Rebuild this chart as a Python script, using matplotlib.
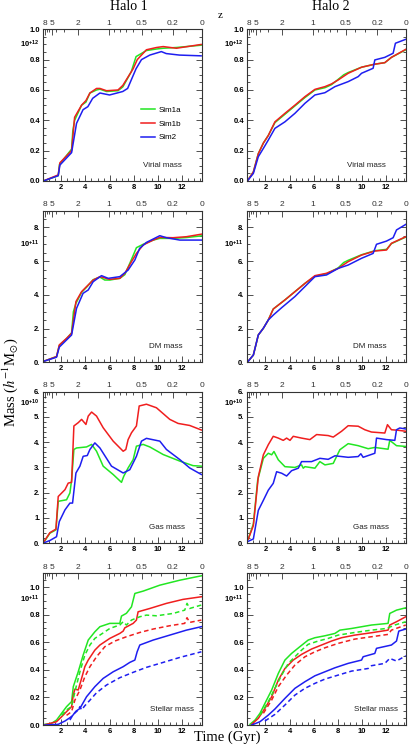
import numpy as np
import matplotlib
matplotlib.use('Agg')
import matplotlib.pyplot as plt
from matplotlib.ticker import MultipleLocator, FixedLocator, FormatStrFormatter

plt.rcParams['font.family'] = ['Liberation Sans', 'DejaVu Sans']
plt.rcParams['mathtext.fontset'] = 'custom'
plt.rcParams['mathtext.rm'] = 'Liberation Sans'
plt.rcParams['mathtext.bf'] = 'Liberation Sans:bold'

# ---------------- labels / categories ----------------
sim_names = ['Sim1a', 'Sim1b', 'Sim2']
sim_colors = ['#22e622', '#f01e1e', '#1e1ef0']
halo_titles = ['Halo 1', 'Halo 2']
panel_labels = ['Virial mass', 'DM mass', 'Gas mass', 'Stellar mass']
exponents = ['+12', '+11', '+10', '+11']
z_major = [8, 5, 2, 1, 0.5, 0.2, 0]
z_major_labels = ['8', '5', '2', '1', '0.5', '0.2', '0']
z_minor = [7, 6, 4, 3, 0.9, 0.8, 0.7, 0.6, 0.4, 0.3, 0.1]
time_ticks = [2, 4, 6, 8, 10, 12]
time_tick_labels = ['2', '4', '6', '8', '10', '12']
row_ylims = [1.0, 9.0, 6.0, 1.1]
row_major = [0.2, 2, 1, 0.2]
row_minor = [0.05, 0.5, 0.2, 0.05]
row_fmt = ['%.1f', '%d.', '%d.', '%.1f']

# ---------------- data: (time [Gyr], mass) ----------------
# Virial mass (units 1e12)
vir_h1_1a = [(0.5,0.0),(1.74,0.035),(1.85,0.11),(2.85,0.21),(2.95,0.33),(3.1,0.40),(3.68,0.50),(4.04,0.52),(4.37,0.58),(4.92,0.60),(5.2,0.605),(5.75,0.59),(6.7,0.595),(7.1,0.62),(7.8,0.72),(8.2,0.82),(9.06,0.86),(9.9,0.87),(10.45,0.875),(11.55,0.88),(13.6,0.895)]
vir_h1_1b = [(0.5,0.0),(1.74,0.04),(1.88,0.12),(2.85,0.2),(3.1,0.42),(3.68,0.5),(4.04,0.53),(4.37,0.58),(4.92,0.61),(5.2,0.61),(5.75,0.595),(6.7,0.60),(7.1,0.63),(7.96,0.74),(8.3,0.80),(9.06,0.865),(9.9,0.88),(10.45,0.886),(11.55,0.875),(13.6,0.90)]
vir_h1_2 = [(0.5,0.0),(1.74,0.035),(1.88,0.105),(2.85,0.187),(3.26,0.38),(3.8,0.47),(4.2,0.49),(4.6,0.545),(5.2,0.58),(6.0,0.567),(7.1,0.59),(7.5,0.61),(8.2,0.74),(8.65,0.80),(9.34,0.83),(10.3,0.853),(10.7,0.84),(11.8,0.83),(13.6,0.825)]
vir_h2_1a = [(0.5,0.0),(1.0,0.06),(1.41,0.18),(1.83,0.25),(2.24,0.30),(2.79,0.385),(3.62,0.44),(4.45,0.495),(5.28,0.55),(6.11,0.60),(6.94,0.615),(7.49,0.635),(8.04,0.67),(8.5,0.70),(8.87,0.715),(9.98,0.75),(11.08,0.77),(11.91,0.78),(12.46,0.815),(13.65,0.865)]
vir_h2_1b = [(0.5,0.0),(1.0,0.06),(1.41,0.18),(1.83,0.25),(2.24,0.30),(2.79,0.39),(3.62,0.446),(4.45,0.50),(5.28,0.556),(6.11,0.604),(6.94,0.622),(7.49,0.64),(8.04,0.666),(8.87,0.71),(9.98,0.75),(11.08,0.77),(11.91,0.78),(12.46,0.815),(13.65,0.868)]
vir_h2_2 = [(0.5,0.0),(1.0,0.05),(1.41,0.16),(1.83,0.215),(2.24,0.27),(2.79,0.347),(3.62,0.39),(4.45,0.446),(5.28,0.512),(6.11,0.567),(6.94,0.582),(7.77,0.622),(8.87,0.655),(9.7,0.688),(9.98,0.71),(10.94,0.743),(11.08,0.798),(11.91,0.815),(12.6,0.842),(12.79,0.908),(13.65,0.934)]

# DM mass (units 1e11)
dm_h1_1a = [(0.5,0.05),(1.6,0.34),(1.83,1.0),(2.43,1.4),(2.85,1.75),(3.0,3.0),(3.21,3.5),(3.68,4.15),(4.09,4.45),(4.64,4.9),(5.2,5.05),(5.6,4.88),(6.02,4.88),(6.85,4.98),(7.27,5.2),(7.82,6.1),(8.23,6.8),(8.79,7.0),(9.62,7.25),(10.17,7.35),(11.27,7.35),(12.38,7.4),(13.62,7.5)]
dm_h1_1b = [(0.5,0.05),(1.6,0.34),(1.83,1.03),(2.43,1.42),(2.85,1.72),(3.21,3.6),(3.68,4.19),(4.09,4.49),(4.64,4.88),(5.2,5.08),(6.02,4.92),(6.85,4.98),(7.27,5.28),(7.82,5.97),(8.23,6.46),(8.79,6.96),(9.62,7.25),(10.17,7.41),(11.27,7.39),(12.38,7.45),(13.62,7.6)]
dm_h1_2 = [(0.5,0.05),(1.6,0.3),(1.83,0.9),(2.85,1.62),(3.26,3.2),(3.8,4.09),(4.23,4.29),(4.64,4.78),(5.33,5.14),(5.89,4.98),(6.85,5.08),(7.54,5.47),(8.1,6.07),(8.5,6.76),(9.06,7.11),(10.17,7.51),(10.72,7.39),(11.83,7.25),(13.62,7.25)]
dm_h2_1a = [(0.5,0.0),(1.0,0.43),(1.41,1.62),(1.83,2.02),(2.24,2.51),(2.65,3.16),(3.62,3.7),(4.45,4.19),(5.28,4.68),(6.11,5.1),(7.07,5.25),(8.04,5.6),(8.5,5.92),(8.87,6.05),(9.98,6.38),(11.08,6.62),(12.05,6.7),(12.46,7.04),(13.65,7.43)]
dm_h2_1b = [(0.5,0.0),(1.0,0.43),(1.41,1.62),(1.83,2.02),(2.24,2.51),(2.65,3.16),(3.62,3.7),(4.45,4.19),(5.28,4.68),(6.11,5.14),(7.07,5.28),(8.04,5.57),(8.87,5.97),(9.98,6.36),(11.08,6.6),(12.05,6.66),(12.46,7.06),(13.65,7.45)]
dm_h2_2 = [(0.5,0.0),(1.0,0.43),(1.41,1.62),(1.83,2.02),(2.24,2.51),(2.65,2.8),(3.35,3.24),(4.45,3.9),(5.28,4.49),(6.11,5.08),(7.07,5.18),(8.04,5.57),(8.87,5.77),(9.98,6.17),(10.94,6.46),(11.22,7.0),(12.05,7.19),(12.6,7.39),(12.88,7.85),(13.65,8.18)]

# Gas mass (units 1e10)
gas_h1_1a = [(0.56,0.05),(1.05,0.4),(1.55,0.53),(1.74,1.66),(2.43,1.72),(2.71,1.99),(2.85,2.5),(3.04,3.71),(3.26,3.77),(4.09,3.81),(4.51,3.91),(4.92,3.64),(5.47,3.05),(6.3,2.72),(6.99,2.41),(7.18,2.65),(7.54,2.98),(7.96,3.31),(8.23,3.84),(8.79,3.91),(9.34,3.81),(10.45,3.51),(11.83,3.25),(12.93,3.07),(13.62,3.05)]
gas_h1_1b = [(0.56,0.07),(1.05,0.42),(1.55,0.56),(1.74,1.85),(2.3,2.12),(2.57,2.38),(2.85,2.41),(3.04,4.64),(3.4,4.77),(3.68,4.9),(4.04,4.7),(4.23,5.03),(4.51,5.19),(4.92,5.03),(5.47,4.57),(6.3,4.04),(7.13,3.64),(7.35,3.71),(7.54,4.1),(7.82,4.37),(8.23,4.64),(8.46,5.43),(9.06,5.5),(9.89,5.36),(11.0,4.9),(11.69,4.74),(12.65,4.66),(13.62,4.48)]
gas_h1_2 = [(0.56,0.02),(1.05,0.11),(1.6,0.26),(1.83,0.86),(2.3,1.32),(2.71,1.59),(2.93,1.59),(3.21,2.78),(3.54,3.05),(3.81,3.44),(4.15,3.47),(4.37,3.71),(4.78,3.97),(5.2,3.77),(6.16,3.05),(7.13,2.78),(7.68,2.91),(8.23,3.44),(8.65,4.04),(9.06,4.15),(10.17,4.04),(10.72,3.71),(11.83,3.31),(12.65,2.98),(13.62,2.72)]
gas_h2_1a = [(0.58,0.17),(1.0,0.77),(1.36,2.5),(1.83,3.36),(2.24,3.56),(2.52,3.5),(2.71,3.63),(3.07,3.3),(3.62,3.03),(4.45,3.0),(5.0,3.1),(5.14,2.97),(5.28,3.03),(6.11,2.97),(6.52,3.23),(6.94,3.1),(7.63,3.16),(8.18,3.7),(8.87,3.94),(9.7,3.86),(10.53,3.74),(11.08,3.79),(12.18,3.72),(12.32,4.07),(12.88,3.86),(13.65,3.83)]
gas_h2_1b = [(0.58,0.17),(1.0,0.7),(1.41,2.63),(1.83,3.5),(2.24,3.9),(2.65,4.23),(3.07,4.16),(3.48,4.07),(3.76,4.16),(4.04,4.07),(4.31,4.23),(5.0,4.16),(5.69,4.1),(6.25,4.3),(7.21,4.26),(7.63,4.2),(8.32,4.43),(8.87,4.65),(9.7,4.63),(10.25,4.49),(10.8,4.4),(11.91,4.36),(12.13,4.69),(12.46,4.49),(13.01,4.47),(13.65,4.43)]
gas_h2_2 = [(0.58,0.08),(1.0,0.17),(1.41,1.3),(1.83,1.7),(2.24,2.1),(2.65,2.37),(2.93,2.83),(3.35,2.77),(3.76,2.66),(4.17,2.87),(4.73,2.97),(5.0,3.23),(5.83,3.23),(6.52,3.36),(7.21,3.32),(7.77,3.46),(8.87,3.4),(9.7,3.43),(9.92,3.54),(10.11,3.4),(11.08,3.56),(11.22,4.16),(12.05,4.1),(12.74,4.07),(12.88,4.49),(13.15,4.56),(13.65,4.52)]

# Stellar mass (units 1e11), solid and dashed
star_h1_1a = [(0.64,0.005),(1.19,0.012),(1.6,0.036),(2.02,0.085),(2.43,0.133),(2.85,0.17),(2.99,0.278),(3.4,0.386),(3.81,0.507),(4.23,0.616),(4.78,0.676),(5.2,0.713),(6.02,0.737),(6.85,0.737),(6.99,0.79),(7.4,0.81),(7.82,0.857),(8.1,0.954),(8.79,0.971),(10.17,1.014),(11.83,1.05),(13.62,1.082)]
star_h1_1b = [(0.64,0.002),(1.6,0.024),(2.02,0.06),(2.43,0.097),(2.85,0.133),(2.99,0.217),(3.12,0.26),(3.4,0.254),(3.68,0.338),(3.95,0.423),(4.23,0.471),(4.78,0.543),(5.2,0.58),(6.02,0.628),(6.85,0.664),(7.13,0.681),(7.27,0.705),(7.96,0.737),(8.23,0.761),(8.37,0.821),(9.34,0.845),(10.72,0.882),(12.1,0.911),(13.62,0.93)]
star_h1_2 = [(0.64,0.0),(1.74,0.005),(2.3,0.029),(2.71,0.053),(2.93,0.068),(3.21,0.1),(3.54,0.12),(4.09,0.205),(4.78,0.278),(5.47,0.338),(6.3,0.386),(7.13,0.423),(7.68,0.454),(8.1,0.471),(8.29,0.531),(8.51,0.58),(9.62,0.616),(11.0,0.652),(12.38,0.688),(13.62,0.713)]
star_h1_1a_d = [(2.02,0.07),(2.43,0.11),(2.85,0.133),(3.12,0.24),(3.54,0.386),(3.95,0.507),(4.37,0.58),(4.78,0.628),(5.2,0.652),(6.02,0.7),(6.44,0.713),(6.85,0.725),(7.13,0.749),(7.4,0.725),(7.82,0.761),(8.51,0.785),(9.06,0.797),(9.89,0.792),(11.27,0.809),(12.24,0.833),(12.43,0.882),(12.65,0.845),(13.62,0.87)]
star_h1_1b_d = [(2.43,0.07),(2.85,0.097),(3.12,0.18),(3.54,0.254),(3.95,0.35),(4.37,0.423),(4.92,0.495),(5.61,0.568),(6.44,0.609),(7.4,0.64),(8.51,0.671),(9.62,0.696),(11.0,0.72),(12.24,0.737),(12.43,0.778),(12.65,0.744),(13.62,0.761)]
star_h1_2_d = [(2.71,0.036),(2.99,0.077),(3.4,0.109),(3.54,0.133),(3.68,0.11),(3.95,0.14),(4.37,0.18),(4.92,0.234),(5.75,0.29),(6.85,0.343),(7.96,0.382),(9.06,0.418),(10.45,0.454),(11.83,0.49),(13.62,0.531)]
star_h2_1a = [(0.72,0.005),(1.14,0.036),(1.55,0.085),(1.96,0.157),(2.52,0.254),(3.07,0.374),(3.62,0.471),(4.17,0.519),(4.86,0.568),(5.55,0.616),(6.11,0.633),(6.94,0.647),(7.77,0.664),(8.18,0.688),(9.15,0.7),(10.8,0.725),(12.18,0.737),(12.32,0.809),(12.88,0.833),(13.65,0.85)]
star_h2_1b = [(0.86,0.005),(1.41,0.048),(1.96,0.121),(2.52,0.205),(3.07,0.326),(3.62,0.41),(4.31,0.471),(5.0,0.512),(5.83,0.551),(6.66,0.58),(7.49,0.609),(8.32,0.633),(9.42,0.652),(10.8,0.669),(12.18,0.688),(12.32,0.725),(12.88,0.749),(13.65,0.785)]
star_h2_2 = [(0.86,0.0),(1.55,0.024),(2.24,0.072),(2.79,0.116),(3.62,0.193),(4.45,0.266),(5.28,0.314),(6.11,0.357),(6.94,0.386),(7.77,0.415),(8.87,0.447),(9.98,0.471),(10.11,0.495),(11.08,0.519),(11.22,0.556),(12.46,0.58),(12.88,0.609),(13.07,0.681),(13.65,0.696)]
star_h2_1a_d = [(1.55,0.072),(2.24,0.169),(2.79,0.266),(3.35,0.362),(3.9,0.447),(4.45,0.495),(5.0,0.543),(5.55,0.585),(6.38,0.609),(7.21,0.628),(8.04,0.652),(9.42,0.671),(10.8,0.688),(12.05,0.7),(12.74,0.725),(13.65,0.749)]
star_h2_1b_d = [(1.83,0.085),(2.52,0.181),(3.07,0.278),(3.76,0.362),(4.45,0.435),(5.28,0.495),(6.11,0.531),(6.94,0.56),(8.04,0.592),(9.42,0.623),(10.8,0.64),(12.18,0.657),(12.46,0.688),(13.65,0.725)]
star_h2_2_d = [(1.96,0.029),(2.79,0.077),(3.62,0.145),(4.45,0.217),(5.28,0.266),(6.11,0.302),(6.94,0.333),(8.04,0.362),(9.15,0.391),(10.53,0.41),(10.8,0.43),(11.91,0.447),(12.32,0.483),(12.88,0.464),(13.65,0.502)]

solid = [
    [[vir_h1_1a, vir_h1_1b, vir_h1_2], [vir_h2_1a, vir_h2_1b, vir_h2_2]],
    [[dm_h1_1a, dm_h1_1b, dm_h1_2], [dm_h2_1a, dm_h2_1b, dm_h2_2]],
    [[gas_h1_1a, gas_h1_1b, gas_h1_2], [gas_h2_1a, gas_h2_1b, gas_h2_2]],
    [[star_h1_1a, star_h1_1b, star_h1_2], [star_h2_1a, star_h2_1b, star_h2_2]],
]
dashed = {3: [[star_h1_1a_d, star_h1_1b_d, star_h1_2_d], [star_h2_1a_d, star_h2_1b_d, star_h2_2_d]]}

# ---------------- cosmology for the redshift axis ----------------
Om, H0 = 0.27, 71.0
def t_of_z(z):
    z = np.asarray(z, dtype=float)
    OL = 1 - Om
    tH = 977.8 / H0
    A = 2.0 / 3.0 * tH / np.sqrt(OL)
    B = np.sqrt(OL / Om)
    return A * np.arcsinh(B * (1 + z) ** -1.5)

t_min, t_max = 0.5, float(t_of_z(0))

# ---------------- layout ----------------
fig = plt.figure(figsize=(4.15, 7.51), dpi=100)
col_left = [0.1043, 0.596]
col_w = 0.3824
row_bottom = [0.759, 0.5176, 0.2766, 0.0346]
row_h = 0.202
exp_y = [0.90, 0.78, 0.92, 0.83]
lab_x = [0.875, 0.875, 0.89, 0.948]

tick_fs = 5.5
for r in range(4):
    for c in range(2):
        ax = fig.add_axes([col_left[c], row_bottom[r], col_w, row_h])
        for s in range(3):
            d = np.array(solid[r][c][s])
            ax.plot(d[:, 0], d[:, 1], color=sim_colors[s], lw=1.1,
                    label=sim_names[s], solid_joinstyle='round')
        if r in dashed:
            for s in range(3):
                d = np.array(dashed[r][c][s])
                ax.plot(d[:, 0], d[:, 1], color=sim_colors[s], lw=1.1,
                        dashes=(3, 2))
        ax.set_xlim(t_min, t_max)
        ax.set_ylim(0, row_ylims[r])
        ax.xaxis.set_major_locator(FixedLocator(time_ticks))
        ax.set_xticklabels(time_tick_labels)
        ax.xaxis.set_minor_locator(MultipleLocator(0.5))
        ax.yaxis.set_major_locator(MultipleLocator(row_major[r]))
        ax.yaxis.set_minor_locator(MultipleLocator(row_minor[r]))
        ax.yaxis.set_major_formatter(FormatStrFormatter(row_fmt[r]))
        ax.tick_params(which='both', direction='in', top=False, right=True,
                       labelsize=tick_fs, width=0.6, color='#333333', pad=2)
        ax.tick_params(which='major', length=4)
        ax.tick_params(which='minor', length=2)
        for lab in ax.get_xticklabels() + ax.get_yticklabels():
            lab.set_fontweight('bold')
        for sp in ax.spines.values():
            sp.set_linewidth(0.8)
            sp.set_color('#333333')
        # redshift axis
        axz = ax.twiny()
        axz.set_xlim(t_min, t_max)
        axz.xaxis.set_major_locator(FixedLocator(t_of_z(z_major)))
        axz.set_xticklabels(z_major_labels)
        axz.xaxis.set_minor_locator(FixedLocator(t_of_z(z_minor)))
        axz.tick_params(which='both', direction='in', labelsize=6, width=0.6,
                        color='#333333', pad=1.5, labelcolor='#333333')
        axz.tick_params(which='major', length=4)
        axz.tick_params(which='minor', length=2)
        for sp in axz.spines.values():
            sp.set_visible(False)
        # exponent label
        ax.text(-0.025, exp_y[r], r'$\mathbf{10^{' + exponents[r] + '}}$',
                transform=ax.transAxes, ha='right', va='center', fontsize=5.5)
        # panel label
        ax.text(lab_x[r], 0.105, panel_labels[r], transform=ax.transAxes,
                ha='right', va='center', fontsize=5.8, color='#222222')
        if r == 0 and c == 0:
            ax.legend(loc='center left', bbox_to_anchor=(0.615, 0.376),
                      frameon=False, fontsize=5.8, handlelength=1.8,
                      handletextpad=0.35, labelspacing=0.75, borderpad=0,
                      borderaxespad=0)

serif = ['Liberation Serif', 'DejaVu Serif']
fig.text(0.31, 0.9907, halo_titles[0], family=serif, fontsize=10, ha='center', va='center')
fig.text(0.798, 0.9907, halo_titles[1], family=serif, fontsize=10, ha='center', va='center')
fig.text(0.53, 0.98, 'z', family=serif, fontsize=8, ha='center', va='center')
fig.text(0.548, 0.0186, 'Time (Gyr)', family=serif, fontsize=10.5, ha='center', va='center')
fig.text(0.024, 0.491, r'Mass ($h^{-1}$M$_{\odot}$)', family=serif, fontsize=10.5,
         ha='center', va='center', rotation=90, math_fontfamily='stix')

fig.savefig('out.png', dpi=100)
